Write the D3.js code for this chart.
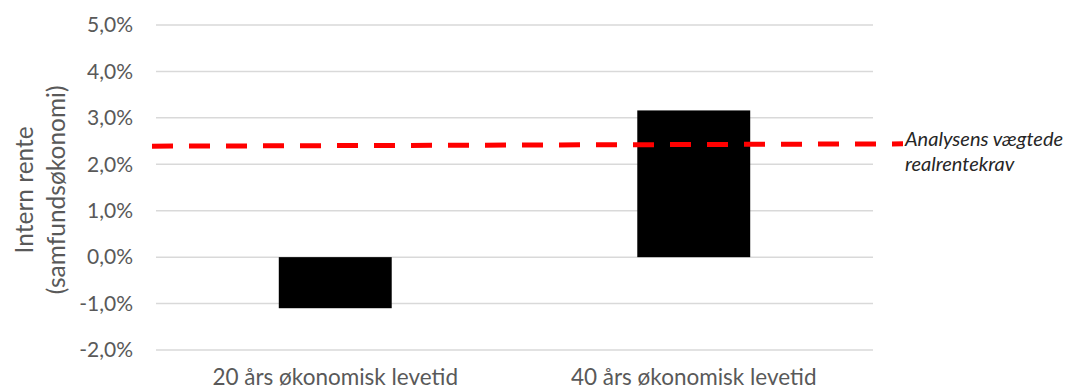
<!DOCTYPE html>
<html>
<head>
<meta charset="utf-8">
<script src="https://cdn.jsdelivr.net/npm/d3@7"></script>
<style>
  html, body { margin: 0; padding: 0; background: #fff; }
  svg { display: block; }
  text { font-family: Lato, "Open Sans", sans-serif; }
</style>
</head>
<body>
<svg id="chart" width="1071" height="392"></svg>
<script>
// Internal rate of return by economic lifetime (percent)
const categories = ["20 års økonomisk levetid", "40 års økonomisk levetid"];
const irrValues = [-1.1, 3.16];
// Weighted real-rate requirement, drawn from start to end of the plot
const requirementValues = [2.39, 2.44];
const requirementLabel = ["Analysens vægtede", "realrentekrav"];
const yTicks = [-2, -1, 0, 1, 2, 3, 4, 5];
const yTitle = ["Intern rente", "(samfundsøkonomi)"];

const svg = d3.select("#chart");
const margin = { left: 156, right: 198, top: 25, bottom: 42 };
const W = 1071, H = 392;
const plotW = W - margin.left - margin.right;

const y = d3.scaleLinear().domain([-2, 5]).range([H - margin.bottom, margin.top]);
const x = d3.scaleBand().domain(categories)
  .range([margin.left, margin.left + plotW])
  .paddingInner(0.685).paddingOuter(0.3425);
const xLine = d3.scaleLinear().domain([0, 1])
  .range([margin.left - 4, margin.left + plotW + 30]);

const fmt = v => d3.format(".1f")(v).replace("\u2212", "-").replace(".", ",") + "%";

// Gridlines
svg.append("g").selectAll("line").data(yTicks).join("line")
  .attr("x1", margin.left).attr("x2", margin.left + plotW)
  .attr("y1", d => y(d)).attr("y2", d => y(d))
  .attr("stroke", "#d9d9d9").attr("stroke-width", 1.5);

// Y axis labels
const yAxis = d3.axisLeft(y).tickValues(yTicks).tickFormat(fmt).tickSize(0).tickPadding(0);
const gy = svg.append("g").attr("transform", `translate(${margin.left - 23},0)`).call(yAxis);
gy.select(".domain").remove();
gy.selectAll("text").attr("fill", "#595959").style("font-size", "21px")
  .style("font-family", "Lato, 'Open Sans', sans-serif");

// Bars
svg.append("g").selectAll("rect").data(irrValues).join("rect")
  .attr("x", (d, i) => x(categories[i]))
  .attr("width", x.bandwidth())
  .attr("y", d => y(Math.max(0, d)))
  .attr("height", d => Math.abs(y(d) - y(0)))
  .attr("fill", "#000");

// X axis labels
const xAxis = d3.axisBottom(x).tickSize(0).tickPadding(0);
const gx = svg.append("g").attr("transform", `translate(0,${H - 23})`).call(xAxis);
gx.select(".domain").remove();
gx.selectAll("text").attr("fill", "#595959").style("font-size", "22.5px")
  .style("font-family", "Lato, 'Open Sans', sans-serif");

// Requirement line (dashed)
const line = d3.line().x((d, i) => xLine(i)).y(d => y(d));
svg.append("path").datum(requirementValues)
  .attr("d", line).attr("fill", "none")
  .attr("stroke", "#ff0000").attr("stroke-width", 5)
  .attr("stroke-dasharray", "21,16");

// Requirement label
const lbl = svg.append("text")
  .attr("x", xLine(1) + 2)
  .attr("y", y(requirementValues[1]) + 2)
  .attr("fill", "#262626").style("font-size", "20px").style("font-style", "italic");
lbl.selectAll("tspan").data(requirementLabel).join("tspan")
  .attr("x", xLine(1) + 2).attr("dy", (d, i) => i === 0 ? 0 : 25).text(d => d);

// Y axis title
const t = svg.append("text")
  .attr("transform", `translate(33,${y(1.45)}) rotate(-90)`)
  .attr("text-anchor", "middle").attr("fill", "#595959").style("font-size", "24.5px");
t.selectAll("tspan").data(yTitle).join("tspan")
  .attr("x", 0).attr("dy", (d, i) => i === 0 ? 0 : 32).text(d => d);
</script>
</body>
</html>
